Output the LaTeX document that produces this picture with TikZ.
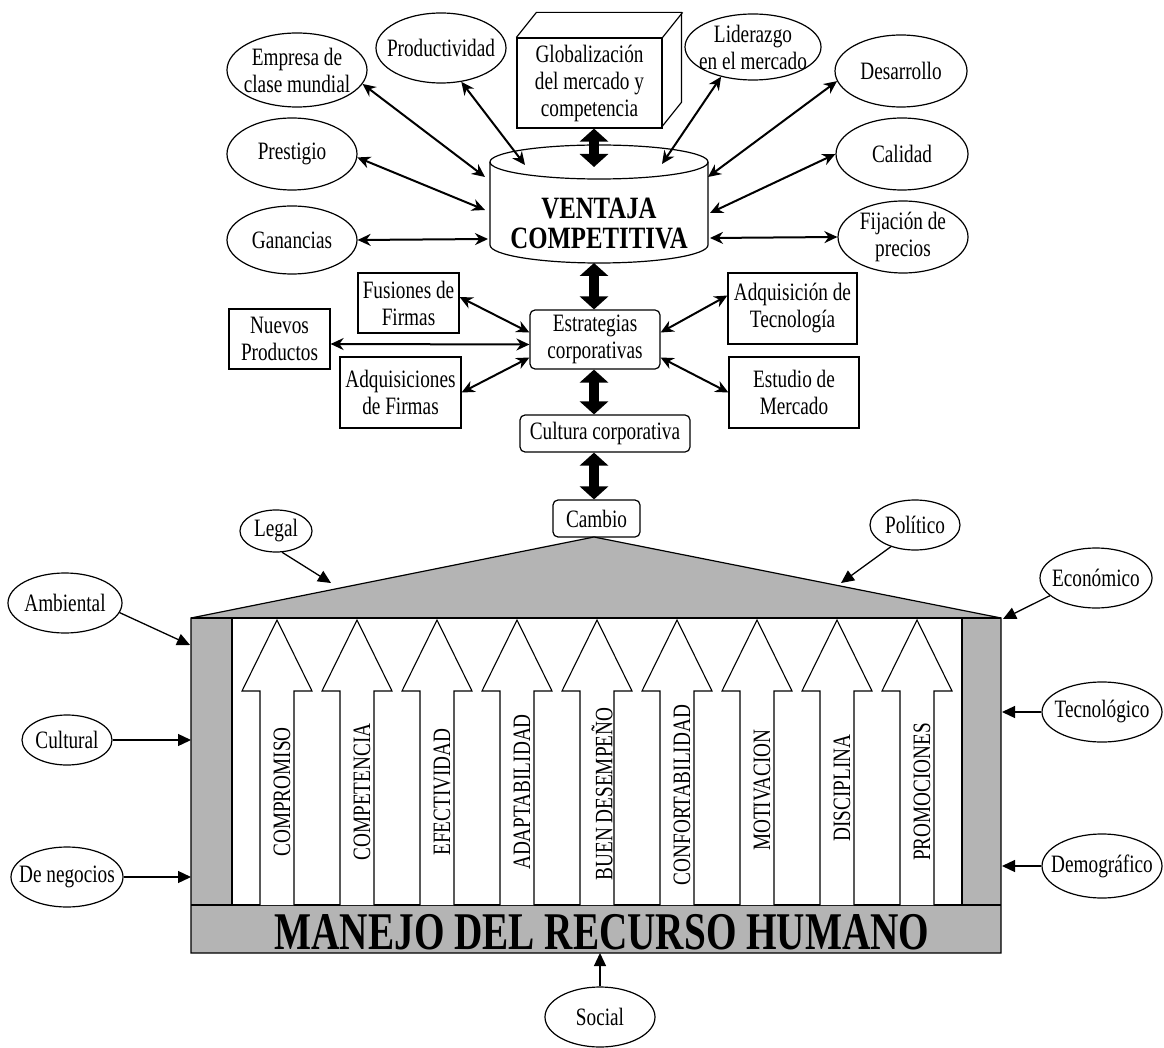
\documentclass[tikz,border=0pt]{standalone}
\usepackage{fontspec}
\setmainfont{Liberation Serif}[FakeStretch=0.77]
\newfontfamily\titlefont{Liberation Serif}[FakeStretch=0.74]
\newfontfamily\ventfont{Liberation Serif}[FakeStretch=0.8]
\usetikzlibrary{shapes.geometric,arrows.meta}
\definecolor{roofgray}{RGB}{180,180,180}
\begin{document}
\begin{tikzpicture}[x=1pt,y=-1pt,
  every node/.style={font=\fontsize{25}{27}\selectfont},
  ell/.style={draw, ellipse, line width=1.2pt, inner sep=-15pt, align=center},
  box/.style={draw, rectangle, line width=1.2pt, inner sep=0pt, align=center},
  rbox/.style={box, rounded corners=5pt},
  dbl/.style={line width=2pt, {Stealth[length=13pt,width=12pt]}-{Stealth[length=13pt,width=12pt]}},
  big/.style={line width=10pt, {Triangle[length=13pt,width=28pt]}-{Triangle[length=13pt,width=28pt]}},
  env/.style={line width=1.3pt, -{Triangle[length=13pt,width=12pt]}},
  vtext/.style={rotate=90, inner sep=0pt}
]
\fill[white] (0,0) rectangle (1164,1048);
\useasboundingbox (0,0) rectangle (1164,1048);

% axis for the thick arrows
\coordinate (axis) at (594,0);
\coordinate (pl) at (191,0);
\coordinate (pr) at (1002,0);
\coordinate (pb) at (0,953);

% ---- cube ----
\node[box, minimum width=145pt, minimum height=90pt] (glob) at (589.5,83) {Globalización\\del mercado y\\competencia};
\draw[line width=1.2pt] (glob.north west) -- ++(20,-25) -- ++(145,0) -- ++(0,90) -- ++(-20,25);
\draw[line width=1.2pt] (glob.north east) -- ++(20,-25);

% ---- cylinder ----
\draw[line width=1.2pt] (490,162) -- (490,245) arc[start angle=180, end angle=360, x radius=109pt, y radius=18pt] -- (708,162);
\draw[line width=1.2pt] (599,162) ellipse [x radius=109pt, y radius=17pt];
\node[font=\ventfont\bfseries\fontsize{31}{30}\selectfont, align=center, inner sep=0pt] (vent) at (599,224) {VENTAJA\\COMPETITIVA};
\coordinate (cyltop) at (599,167);
\coordinate (cylbot) at (599,263);
\coordinate (c-emp) at (485,177);
\coordinate (c-pro) at (525,165);
\coordinate (c-pre) at (485,210);
\coordinate (c-gan) at (488,239);
\coordinate (c-lid) at (662,164);
\coordinate (c-des) at (708,177);
\coordinate (c-cal) at (710,213);
\coordinate (c-fij) at (710,238);

% ---- top ellipses ----
\node[ell, minimum width=140pt, minimum height=74pt] (emp) at (297,70) {Empresa de\\clase mundial};
\node[ell, minimum width=130pt, minimum height=70pt] (pro) at (441,48) {Productividad};
\node[ell, minimum width=130pt, minimum height=72pt] (pre) at (292,154) {Prestigio};
\node[ell, minimum width=130pt, minimum height=68pt] (gan) at (292,240) {Ganancias};
\node[ell, minimum width=136pt, minimum height=66pt] (lid) at (753,47) {Liderazgo\\en el mercado};
\node[ell, minimum width=132pt, minimum height=72pt] (des) at (901,71) {Desarrollo};
\node[ell, minimum width=132pt, minimum height=72pt] (cal) at (902,154) {Calidad};
\node[ell, minimum width=130pt, minimum height=72pt] (fij) at (903,237) {Fijación de\\precios};

\draw[dbl] (emp.-12) -- (c-emp);
\draw[dbl] (pro.-59) -- (c-pro);
\draw[dbl] (pre.-3) -- (c-pre);
\draw[dbl] (gan.east) -- (c-gan);
\draw[dbl] (lid.-137) -- (c-lid);
\draw[dbl] (des.189) -- (c-des);
\draw[dbl] (cal.west) -- (c-cal);
\draw[dbl] (fij.west) -- (c-fij);

% ---- strategies ----
\node[rbox, minimum width=130pt, minimum height=59pt] (est) at (595,339.5) {Estrategias\\corporativas};
\node[box, minimum width=101pt, minimum height=60pt] (fus) at (408.5,303) {Fusiones de\\Firmas};
\node[box, minimum width=101pt, minimum height=60pt] (nue) at (279.5,339) {Nuevos\\Productos};
\node[box, minimum width=121pt, minimum height=71pt] (adqf) at (400.5,392.5) {Adquisiciones\\de Firmas};
\node[box, minimum width=129pt, minimum height=71pt] (tec) at (792.5,308.5) {Adquisición de\\Tecnología};
\node[box, minimum width=130pt, minimum height=71pt] (mer) at (794,392.5) {Estudio de\\Mercado};
\node[rbox, minimum width=170pt, minimum height=37pt] (cul) at (605,433.5) {Cultura corporativa};
\node[rbox, minimum width=87pt, minimum height=37pt] (cam) at (596.5,518.5) {Cambio};

\draw[dbl] ([yshift=6pt]fus.east) -- ([yshift=7pt]est.west);
\draw[dbl] ([yshift=-5pt]nue.east) -- ([yshift=-5pt]est.west);
\draw[dbl] (adqf.east) -- ([yshift=-18pt]est.west);
\draw[dbl] ([yshift=13pt]tec.west) -- ([yshift=7pt]est.east);
\draw[dbl] (mer.west) -- ([yshift=-18pt]est.east);

% ---- thick arrows ----
\draw[big] (glob.south -| axis) -- (cyltop -| axis);
\draw[big] (cylbot -| axis) -- (est.north -| axis);
\draw[big] (est.south -| axis) -- (cul.north -| axis);
\draw[big] (cul.south -| axis) -- (cam.north -| axis);

% ---- building ----
\filldraw[fill=roofgray, draw=black, line width=1.2pt] (191,953) -- (191,618) -- (594,537) -- (1001,618) -- (1001,953) -- cycle;
\draw[line width=1.2pt] (191,618) -- (1001,618);
\draw[fill=white, line width=1.2pt] (232,618) rectangle (962,905);
\draw[line width=1.2pt] (191,905) -- (1001,905);

\foreach \cx in {277,357,437,517,597,677,757,837,917}{
  \draw[fill=white, line width=1.1pt] (\cx-17,905) -- (\cx-17,691) -- (\cx-35,691) -- (\cx,620) -- (\cx+35,691) -- (\cx+17,691) -- (\cx+17,905);
}
\node[vtext] (v1) at (282,792) {COMPROMISO};
\node[vtext] (v2) at (362,792) {COMPETENCIA};
\node[vtext] (v3) at (442,792) {EFECTIVIDAD};
\node[vtext] (v4) at (522,792) {ADAPTABILIDAD};
\node[vtext] (v5) at (602,794) {BUEN DESEMPEÑO};
\node[vtext] (v6) at (682,795) {CONFORTABILIDAD};
\node[vtext] (v7) at (762,790) {MOTIVACION};
\node[vtext] (v8) at (842,788) {DISCIPLINA};
\node[vtext] (v9) at (922,792) {PROMOCIONES};

\node[font=\titlefont\bfseries\fontsize{53}{53}\selectfont, anchor=base, inner sep=0pt] (title) at (602,949) {MANEJO DEL RECURSO HUMANO};

% ---- environment ellipses ----
\node[ell, minimum width=72pt, minimum height=42pt] (leg) at (276,531) {Legal};
\node[ell, minimum width=114pt, minimum height=60pt] (amb) at (65,603) {Ambiental};
\node[ell, minimum width=90pt, minimum height=50pt] (pol) at (915,525) {Político};
\node[ell, minimum width=112pt, minimum height=60pt] (eco) at (1096,578) {Económico};
\node[ell, minimum width=90pt, minimum height=50pt] (cult) at (67,740) {Cultural};
\node[ell, minimum width=112pt, minimum height=60pt] (neg) at (67,877) {De negocios};
\node[ell, minimum width=120pt, minimum height=60pt] (tecn) at (1102,712) {Tecnológico};
\node[ell, minimum width=120pt, minimum height=64pt] (dem) at (1102,866) {Demográfico};
\node[ell, minimum width=110pt, minimum height=60pt] (soc) at (600,1017) {Social};

\coordinate (p-leg) at (331,583);
\coordinate (p-amb) at (190,645);
\coordinate (p-pol) at (841,583);
\coordinate (p-eco) at (1003,619);
\draw[env] (leg.-74) -- (p-leg);
\draw[env] (amb.-10) -- (p-amb);
\draw[env] (pol.-138) -- (p-pol);
\draw[env] (eco.-159) -- (p-eco);
\draw[env] (cult.east) -- (cult.east -| pl);
\draw[env] (neg.east) -- (neg.east -| pl);
\draw[env] (tecn.west) -- (tecn.west -| pr);
\draw[env] (dem.west) -- (dem.west -| pr);
\draw[env] (soc.north) -- (soc.north |- pb);
\end{tikzpicture}
\end{document}
